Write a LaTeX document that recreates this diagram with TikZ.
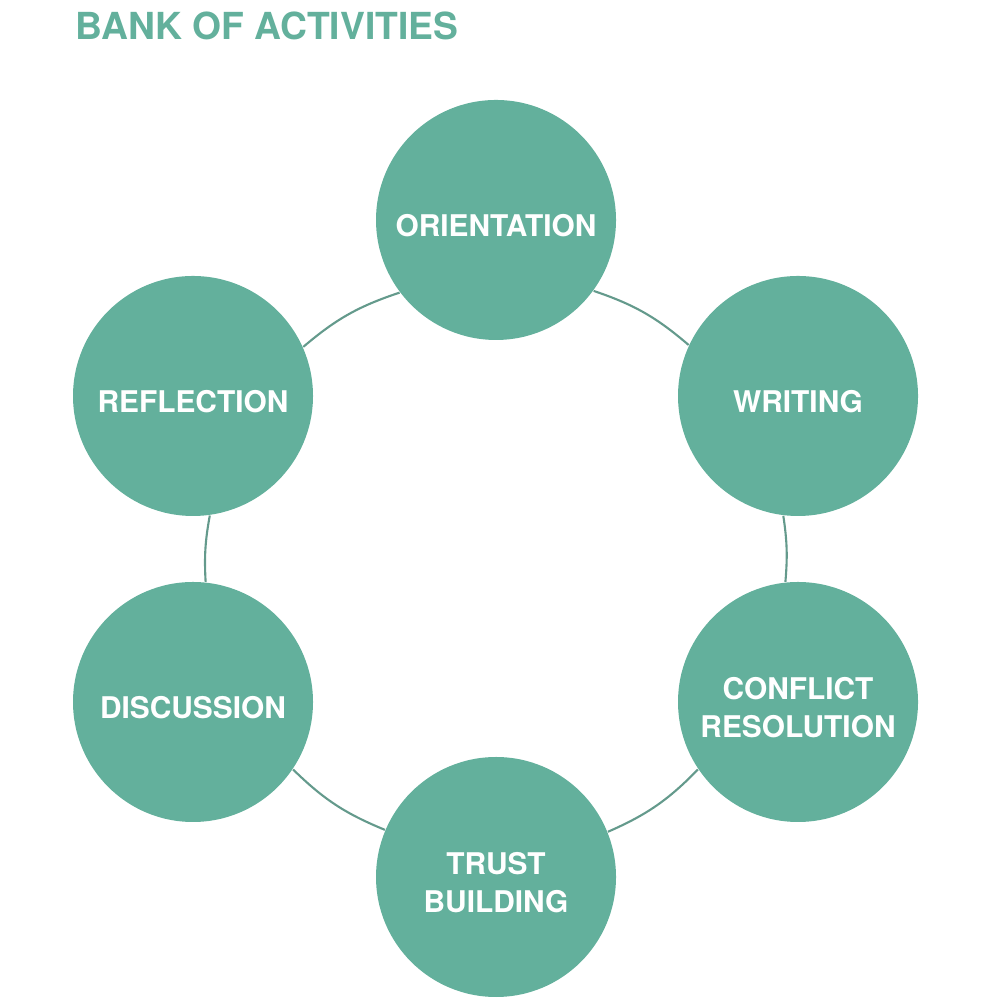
\documentclass[tikz,border=0pt]{standalone}
\usepackage{fontspec}
\setmainfont{TeX Gyre Heros}
\definecolor{teal1}{RGB}{99,176,156}
\definecolor{ringline}{RGB}{100,154,140}
\newcommand\lowline[1]{\raisebox{-1.5pt}[\height][\depth]{#1}}
\tikzset{
  act/.style={circle, fill=teal1, minimum size=2.4cm, inner sep=0pt, text=white, align=center,
    font=\fontsize{8.5pt}{10.8pt}\selectfont\bfseries},
  ring/.style={draw=ringline, line width=0.6pt},
  titletext/.style={text=teal1, font=\fontsize{10.6pt}{12pt}\selectfont\bfseries, inner sep=0pt, anchor=base west}
}
\begin{document}
\begin{tikzpicture}
\useasboundingbox (0,0) rectangle (10,10);
\node[titletext] (title) at (0.75,9.60) {BANK OF ACTIVITIES};
\node[act] (O) at (4.96,7.80) {\lowline{ORIENTATION}};
\node[act] (W) at (7.98,6.04) {\lowline{WRITING}};
\node[act] (C) at (7.98,2.98) {\lowline{CONFLICT}\\\lowline{RESOLUTION}};
\node[act] (T) at (4.96,1.23) {\lowline{TRUST}\\\lowline{BUILDING}};
\node[act] (D) at (1.93,2.98) {\lowline{DISCUSSION}};
\node[act] (R) at (1.93,6.04) {\lowline{REFLECTION}};
\draw[ring] (O.-36.1) to[bend left=11] (W.155.9);
\draw[ring] (W.-97.7) to[bend left=6.7] (C.96.0);
\draw[ring] (C.214.9) to[bend left=11] (T.22.1);
\draw[ring] (T.157.9) to[bend left=11] (D.-34.9);
\draw[ring] (D.84.0) to[bend left=6.7] (R.-82.3);
\draw[ring] (R.24.1) to[bend left=11] (O.-143.9);
\end{tikzpicture}
\end{document}
